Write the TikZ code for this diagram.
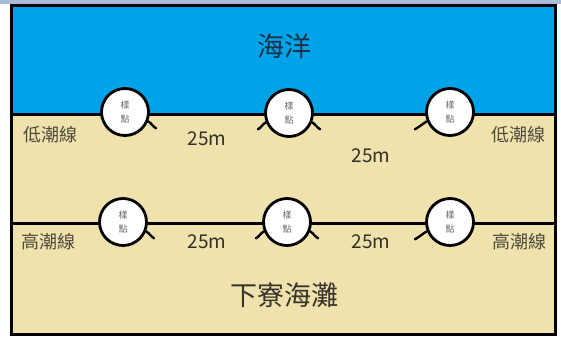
\documentclass[tikz,border=0pt]{standalone}
\usepackage{fontspec}
\setmainfont{Noto Sans CJK TC}
\begin{document}
\begin{tikzpicture}[x=1pt,y=-1pt,
  pt/.style={circle,draw=black,line width=2.8pt,fill=white,minimum size=47pt,inner sep=0pt,
    align=center,font=\fontsize{9}{12}\selectfont,text=gray!80!black},
  lbl/.style={font=\fontsize{18}{20}\selectfont,text=black!75!olive!80!gray},
  dist/.style={font=\fontsize{19}{20}\selectfont,text=black!85!olive},
  big/.style={font=\fontsize{27}{30}\selectfont},
  tail/.style={line width=2.4pt,line cap=round}]
\useasboundingbox (0,0) rectangle (561,340);
\fill[white] (0,0) rectangle (561,340);
\fill[fill={rgb,255:red,168;green,188;blue,216}] (0,0) rectangle (561,3.5);
% regions
\fill[fill={rgb,255:red,0;green,162;blue,232}] (11.5,5.5) rectangle (555.5,114);
\fill[fill={rgb,255:red,239;green,226;blue,172}] (11.5,114) rectangle (555.5,334);
% lines
\coordinate (lowL) at (11.5,114);
\coordinate (lowR) at (555.5,114);
\coordinate (highL) at (11.5,223);
\coordinate (highR) at (555.5,223);
\draw[line width=3pt] (lowL) -- (lowR);
\draw[line width=3pt] (highL) -- (highR);
\draw[line width=3pt] (11.5,5.5) rectangle (555.5,334);
% big labels
\node[big,text={rgb,255:red,25;green,50;blue,75}] (sea) at (284,46) {海洋};
\node[big,text=black!80!olive] (beach) at (284,295) {下寮海灘};
% low tide points
\node[pt] (a1) at (125,112) {樣\\[2pt]點};
\node[pt] (a2) at (289,113) {樣\\[2pt]點};
\node[pt] (a3) at (450,112) {樣\\[2pt]點};
\draw[tail] (a1.-22) to[out=-30,in=150] ++(8,7);
\draw[tail] (a2.-22) to[out=-30,in=150] ++(8,7);
\draw[tail] (a2.202) to[out=210,in=30] ++(-8,7);
\draw[tail] (a3.202) to[out=210,in=30] ++(-12,8);
% high tide points
\node[pt] (b1) at (123,222) {樣\\[2pt]點};
\node[pt] (b2) at (287,222) {樣\\[2pt]點};
\node[pt] (b3) at (450,222) {樣\\[2pt]點};
\draw[tail] (b1.-22) to[out=-30,in=150] ++(8,7);
\draw[tail] (b2.-22) to[out=-30,in=150] ++(8,7);
\draw[tail] (b2.202) to[out=210,in=30] ++(-8,7);
\draw[tail] (b3.202) to[out=210,in=30] ++(-12,8);
% labels
\node[lbl] (lowtxtL) at (50,135) {低潮線};
\node[lbl] (lowtxtR) at (518,135) {低潮線};
\node[lbl] (hightxtL) at (48,242) {高潮線};
\node[lbl] (hightxtR) at (519,242) {高潮線};
\node[dist] (d1) at (207,139) {25m};
\node[dist] (d2) at (371,156) {25m};
\node[dist] (d3) at (207,242) {25m};
\node[dist] (d4) at (371,242) {25m};
\end{tikzpicture}
\end{document}
